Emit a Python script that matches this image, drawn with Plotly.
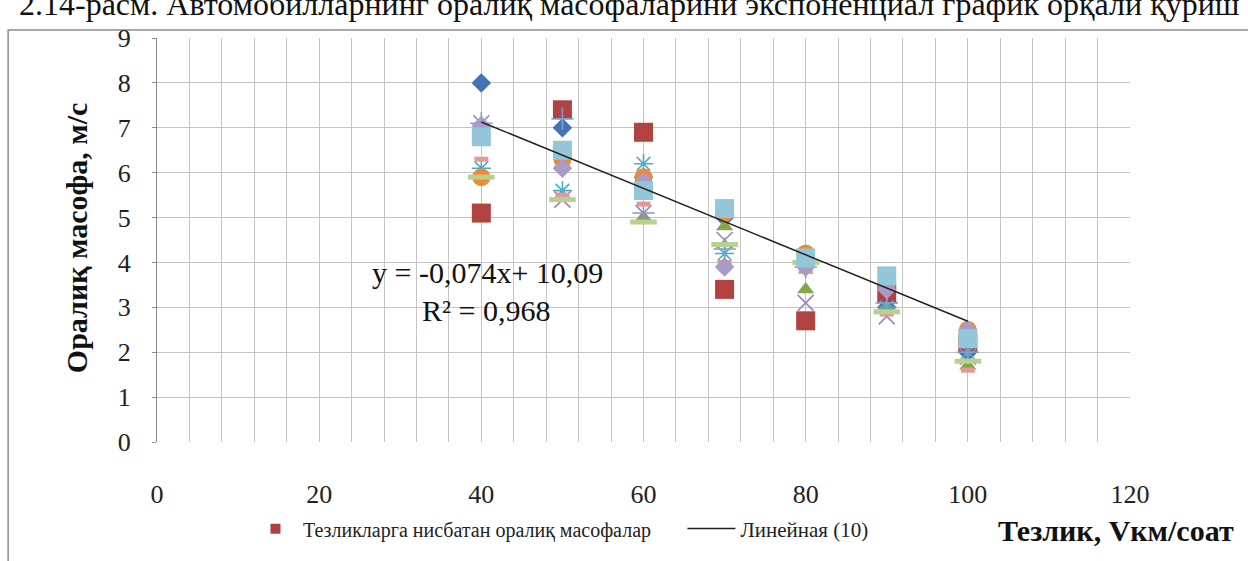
import plotly.graph_objects as go

# ---------------- data ----------------
speeds = [40, 50, 60, 70, 80, 90, 100]

s1_blue_diamond = [8.0, 7.0, 5.9, 5.0, 4.0, 3.0, 2.0]
s2_red_square = [5.1, 7.4, 6.9, 3.4, 2.7, 3.3, 2.2]
s3_green_triangle = [6.7, 6.2, 5.0, 4.8, 3.4, 3.0, 1.7]
s4_purple_x = [7.1, 5.4, 5.1, 4.5, 3.1, 2.8, 1.9]
s5_aqua_star = [6.1, 5.6, 6.2, 4.2, 3.9, 3.0, 2.0]
s6_orange_circle = [5.9, 6.3, 5.9, 5.1, 4.2, 3.5, 2.5]
s7_blue_plus = [7.1, 7.2, 5.1, 4.3, 3.9, 3.1, 2.0]
s8_pink_dash = [6.3, 5.5, 5.3, 4.0, 3.8, 2.85, 1.6]
s9_green_longdash = [5.9, 5.4, 4.9, 4.4, 4.0, 2.9, 1.8]
s10_lilac_diamond = [7.05, 6.1, 5.8, 3.9, 3.9, 3.4, 2.5]
s11_lightblue_square = [6.8, 6.5, 5.6, 5.2, 4.1, 3.7, 2.3]

trend_slope = -0.074
trend_intercept = 10.09
trend_r2 = 0.968
trend_x = [40, 100]

x_ticks = [0, 20, 40, 60, 80, 100, 120]
y_ticks = [0, 1, 2, 3, 4, 5, 6, 7, 8, 9]

legend_name = "Тезликларга нисбатан оралиқ масофалар"
trend_name = "Линейная (10)"
caption = "2.14-расм. Автомобилларнинг оралиқ масофаларини экспоненциал график орқали қуриш"
x_title = "Тезлик, Vкм/соат"
y_title = "Оралиқ масофа, м/с"

SERIF = "Liberation Serif, Times New Roman, serif"

series = [
    (s1_blue_diamond, "diamond", 15, "#4472B4", 0),
    (s2_red_square, "square", 19, "#B0423F", 0),
    (s3_green_triangle, "triangle-up", 15, "#84A749", 0),
    (s4_purple_x, "x-thin-open", 16, "#9A85BE", 1.6),
    (s5_aqua_star, "asterisk-open", 16, "#4BACC6", 1.6),
    (s6_orange_circle, "circle", 18, "#E98B3A", 0),
    (s7_blue_plus, "cross-thin-open", 16, "#7F9FD0", 1.6),
    (s8_pink_dash, "line-ew-open", 10, "#E09A99", 5),
    (s9_green_longdash, "line-ew-open", 19, "#B9D18C", 5),
    (s10_lilac_diamond, "diamond", 15, "#A99BC7", 0),
    (s11_lightblue_square, "square", 19, "#93C6D9", 0),
]

fig = go.Figure()

for vals, sym, size, col, lw in series:
    if sym.endswith("-open"):
        marker = dict(symbol=sym, size=size, color=col, line=dict(color=col, width=lw))
    else:
        marker = dict(symbol=sym, size=size, color=col, line=dict(width=0))
    fig.add_trace(go.Scatter(x=speeds, y=vals, mode="markers", marker=marker,
                             showlegend=False, hoverinfo="x+y"))

trend_y = [trend_slope * x + trend_intercept for x in trend_x]
fig.add_trace(go.Scatter(x=trend_x, y=trend_y, mode="lines",
                         line=dict(color="#222222", width=1.5),
                         name=trend_name, showlegend=True, legend="legend2"))

# legend-only entry for the named series
fig.add_trace(go.Scatter(x=[None], y=[None], mode="markers",
                         marker=dict(symbol="square", size=10, color="#B0423F"),
                         name=legend_name, showlegend=True, legend="legend"))

grid_col = "#C4C4C4"
fig.update_xaxes(range=[0, 120], tickvals=x_ticks, ticktext=[str(v) for v in x_ticks],
                 showgrid=True, gridcolor=grid_col, gridwidth=1.3,
                 minor=dict(dtick=4, showgrid=True, gridcolor=grid_col, gridwidth=1.3),
                 zeroline=False, showline=False, ticks="",
                 tickfont=dict(family=SERIF, size=26, color="#222"),
                 ticklabelstandoff=34)
fig.update_yaxes(range=[0, 9], tickvals=y_ticks, showgrid=True, gridcolor=grid_col,
                 gridwidth=1.3, zeroline=False, showline=True, linecolor="#8C8C8C",
                 linewidth=1.2, ticks="outside", ticklen=4, tickcolor="#8C8C8C",
                 tickfont=dict(family=SERIF, size=26, color="#222"),
                 ticklabelstandoff=16)

annotations = [
    dict(x=40.7, y=3.77, xref="x", yref="y", showarrow=False, xanchor="center", yanchor="middle",
         text=f"y = {str(trend_slope).replace('.', ',')}x+ {str(trend_intercept).replace('.', ',')}",
         font=dict(family=SERIF, size=30, color="#111")),
    dict(x=40.6, y=2.93, xref="x", yref="y", showarrow=False, xanchor="center", yanchor="middle",
         text=f"R² = {str(trend_r2).replace('.', ',')}",
         font=dict(family=SERIF, size=30, color="#111")),
    dict(x=0.986, y=-0.218, xref="paper", yref="paper", showarrow=False,
         xanchor="center", yanchor="middle",
         text=f"<b>{x_title}</b>", font=dict(family=SERIF, size=30, color="#111")),
    dict(x=-0.082, y=0.505, xref="paper", yref="paper", showarrow=False, textangle=-90,
         xanchor="center", yanchor="middle",
         text=f"<b>{y_title}</b>", font=dict(family=SERIF, size=30, color="#111")),
    dict(x=0.486, y=1.085, xref="paper", yref="paper", showarrow=False,
         xanchor="center", yanchor="middle",
         text=caption, font=dict(family=SERIF, size=32, color="#111")),
]

shapes = [
    dict(type="rect", xref="paper", yref="paper", x0=-0.153, x1=1.3, y0=-0.5, y1=1.0196,
         line=dict(color="#8C8C8C", width=1.5), fillcolor="rgba(0,0,0,0)", layer="below"),
]

fig.update_layout(
    width=1248, height=561,
    margin=dict(l=157, r=118, t=38, b=115),
    paper_bgcolor="white", plot_bgcolor="white",
    annotations=annotations, shapes=shapes,
    legend=dict(x=0.0935, y=-0.215, xanchor="left", yanchor="middle",
                orientation="h", font=dict(family=SERIF, size=20, color="#222"),
                bgcolor="rgba(0,0,0,0)", itemwidth=45),
    legend2=dict(x=0.54, y=-0.215, xanchor="left", yanchor="middle",
                 orientation="h", font=dict(family=SERIF, size=21, color="#222"),
                 bgcolor="rgba(0,0,0,0)", itemwidth=48),
)

fig.write_html("out.html")
